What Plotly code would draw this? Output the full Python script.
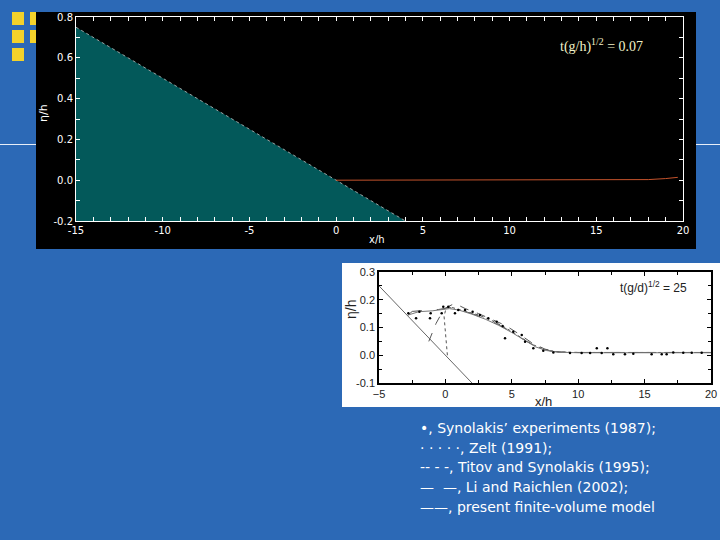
import plotly.graph_objects as go

W, H = 720, 540

# ---------------- data ----------------
# top panel (t(g/h)^1/2 = 0.07)
top_beach_x = [-15, 4, -15]
top_beach_y = [0.75, -0.2, -0.2]
top_water_x = [0, 5, 10, 17.3, 18.0, 19.0, 19.7]
top_water_y = [0.0, 0.0, 0.0, 0.0, 0.003, 0.008, 0.014]
top_yticks = [0.8, 0.6, 0.4, 0.2, 0.0, -0.2]
top_yticktext = ["0.8", "0.6", "0.4", "0.2", "0.0", "-0.2"]
top_xticks = [-15, -10, -5, 0, 5, 10, 15, 20]
top_xticktext = ["-15", "-10", "-5", "0", "5", "10", "15", "20"]

# bottom panel (t(g/d)^1/2 = 25)
beach_x = [-5, 2]
beach_y = [0.25, -0.1]
exp_x = [-2.79, -2.21, -1.96, -1.16, -1.11, -0.28, -0.16, 0.22, 0.72, 0.97, 1.48, 2.05, 2.6,
         3.23, 3.86, 4.31, 4.49, 5.11, 5.75, 6.0, 6.62, 7.37, 8.13,
         9.38, 10.26, 10.9, 11.4, 11.77, 12.2, 12.64, 13.52, 14.15, 15.53, 16.29, 16.66,
         17.16, 17.91, 18.55, 19.3]
exp_y = [0.151, 0.133, 0.157, 0.133, 0.151, 0.151, 0.175, 0.175, 0.151, 0.163, 0.163, 0.157, 0.145,
         0.133, 0.121, 0.105, 0.061, 0.085, 0.073, 0.049, 0.025, 0.016, 0.010,
         0.008, 0.008, 0.008, 0.025, 0.008, 0.025, 0.004, 0.004, 0.005, 0.004, 0.004, 0.004,
         0.010, 0.009, 0.009, 0.009]
zelt_x = [0.15, 0.05, -0.1, 0.05, 0.3, 0.8, 1.5, 2.5, 3.5, 4.5, 5.5, 6.5, 7.5, 8.5, 10, 20]
zelt_y = [0.0, 0.07, 0.14, 0.17, 0.175, 0.168, 0.158, 0.145, 0.125, 0.1, 0.07, 0.04, 0.02, 0.012, 0.01, 0.01]
titov_x = [-1.25, -0.7, -0.3, 0.0, 0.7, 1.5, 2.5, 3.5, 4.5, 5.5, 6.5, 7.5, 8.5, 10, 20]
titov_y = [0.05, 0.115, 0.15, 0.17, 0.187, 0.168, 0.15, 0.13, 0.108, 0.078, 0.045, 0.022, 0.012, 0.01, 0.01]
li_x = [-2.8, -2.5, -1.5, -0.5, 0.3, 1.0, 2.0, 3.0, 4.0, 5.0, 6.0, 7.0, 8.0, 9.0, 20]
li_y = [0.145, 0.158, 0.162, 0.165, 0.172, 0.165, 0.15, 0.132, 0.11, 0.084, 0.053, 0.028, 0.014, 0.01, 0.01]
model_x = [-2.8, -2.0, -1.0, -0.3, 0.3, 1.0, 2.0, 3.0, 4.0, 5.0, 6.0, 6.8, 7.6, 8.5, 10, 15, 20]
model_y = [0.145, 0.157, 0.16, 0.163, 0.168, 0.163, 0.148, 0.13, 0.108, 0.082, 0.052, 0.03, 0.017, 0.011, 0.009, 0.009, 0.009]
bot_yticks = [0.3, 0.2, 0.1, 0.0, -0.1]
bot_yticktext = ["0.3", "0.2", "0.1", "0.0", "-0.1"]
bot_xticks = [-5, 0, 5, 10, 15, 20]

legend_lines = [
    "•, Synolakis’ experiments (1987);",
    "· · · · ·, Zelt (1991);",
    "-- - -, Titov and Synolakis (1995);",
    "—  —, Li and Raichlen (2002);",
    "——, present finite-volume model",
]

# ---------------- helpers ----------------
def px(x):
    return x / W

def py(y):
    return 1 - y / H

fig = go.Figure()

# top panel traces
fig.add_trace(go.Scatter(x=top_beach_x, y=top_beach_y, fill="toself", mode="lines",
                         fillcolor="#03595a", line=dict(color="#03595a", width=0),
                         xaxis="x", yaxis="y", hoverinfo="skip"))
fig.add_trace(go.Scatter(x=top_beach_x[:2], y=top_beach_y[:2], mode="lines",
                         line=dict(color="#9aa4a4", width=1, dash="dot"),
                         xaxis="x", yaxis="y", hoverinfo="skip"))
fig.add_trace(go.Scatter(x=top_water_x, y=top_water_y, mode="lines",
                         line=dict(color="#c4532c", width=1),
                         xaxis="x", yaxis="y", hoverinfo="skip"))

# bottom panel traces
grey = "#555555"
fig.add_trace(go.Scatter(x=beach_x, y=beach_y, mode="lines",
                         line=dict(color="#666666", width=1), xaxis="x2", yaxis="y2"))
fig.add_trace(go.Scatter(x=zelt_x, y=zelt_y, mode="lines",
                         line=dict(color=grey, width=1, dash="dot"), xaxis="x2", yaxis="y2"))
fig.add_trace(go.Scatter(x=titov_x, y=titov_y, mode="lines",
                         line=dict(color=grey, width=1, dash="dash"), xaxis="x2", yaxis="y2"))
fig.add_trace(go.Scatter(x=li_x, y=li_y, mode="lines",
                         line=dict(color=grey, width=1, dash="longdash"), xaxis="x2", yaxis="y2"))
fig.add_trace(go.Scatter(x=model_x, y=model_y, mode="lines",
                         line=dict(color="#777777", width=1), xaxis="x2", yaxis="y2"))
fig.add_trace(go.Scatter(x=exp_x, y=exp_y, mode="markers",
                         marker=dict(color="black", size=2.5), xaxis="x2", yaxis="y2"))

shapes = []
# white divider line behind panels
shapes.append(dict(type="line", xref="paper", yref="paper", x0=0, x1=1, y0=py(144.5), y1=py(144.5),
                   line=dict(color="#e8eef8", width=1), layer="below"))
# yellow squares
for (x0, y0) in [(12, 12), (30, 12), (12, 30), (30, 30), (12, 48)]:
    shapes.append(dict(type="rect", xref="paper", yref="paper",
                       x0=px(x0), x1=px(x0 + 12), y0=py(y0 + 13), y1=py(y0),
                       fillcolor="#f3d22b", line=dict(width=0), layer="below"))
# black panel
shapes.append(dict(type="rect", xref="paper", yref="paper", x0=px(36), x1=px(696), y0=py(249), y1=py(12),
                   fillcolor="black", line=dict(width=0), layer="below"))
# white panel
shapes.append(dict(type="rect", xref="paper", yref="paper", x0=px(342), x1=px(720), y0=py(407), y1=py(263),
                   fillcolor="white", line=dict(width=0), layer="below"))

def ann(text, x, y, font, angle=0, xanchor="center"):
    return dict(text=text, x=px(x), y=py(y), xref="paper", yref="paper", textangle=angle,
                xanchor=xanchor, yanchor="middle", showarrow=False, font=font)

annotations = [
    ann("t(g/h)<sup>1/2</sup> = 0.07", 601, 45,
        dict(family="Liberation Serif", size=14, color="#f2f2c8")),
    ann("η/h", 43, 113, dict(family="DejaVu Sans", size=11, color="white"), angle=-90),
    ann("x/h", 377, 239, dict(family="DejaVu Sans", size=10, color="white")),
    ann("t(g/d)<sup>1/2</sup> = 25", 653, 287, dict(family="Liberation Sans", size=12, color="#222222")),
    ann("η/h", 351, 310, dict(family="Liberation Sans", size=14, color="#222222"), angle=-90),
    ann("x/h", 543, 401, dict(family="Liberation Sans", size=13, color="#222222")),
]
for i, t in enumerate(legend_lines):
    annotations.append(ann(t, 418, 428 + i * 19.7,
                           dict(family="DejaVu Sans", size=14, color="white"), xanchor="left"))

fig.update_layout(
    width=W, height=H, autosize=False,
    margin=dict(l=0, r=0, t=0, b=0, pad=0, autoexpand=False),
    paper_bgcolor="#2c69b6", plot_bgcolor="rgba(0,0,0,0)",
    showlegend=False,
    shapes=shapes, annotations=annotations,
    xaxis=dict(domain=[px(76), px(683)], range=[-15, 20], anchor="y",
               tickvals=top_xticks, ticktext=top_xticktext,
               ticks="inside", ticklen=4, tickcolor="white", showline=True, linecolor="white",
               linewidth=1, mirror="ticks", showgrid=False, zeroline=False,
               minor=dict(dtick=1, ticks="inside", ticklen=4, tickcolor="white", showgrid=False),
               tickfont=dict(family="DejaVu Sans", size=10, color="white")),
    yaxis=dict(domain=[py(221), py(17)], range=[-0.2, 0.8], anchor="x",
               tickvals=top_yticks, ticktext=top_yticktext,
               ticks="inside", ticklen=4, tickcolor="white", showline=True, linecolor="white",
               linewidth=1, mirror="ticks", showgrid=False, zeroline=False,
               minor=dict(dtick=0.1, ticks="inside", ticklen=4, tickcolor="white", showgrid=False),
               tickfont=dict(family="DejaVu Sans", size=10, color="white")),
    xaxis2=dict(domain=[px(379), px(711)], range=[-5, 20], anchor="y2",
                tickvals=bot_xticks,
                ticks="inside", ticklen=4, tickcolor="black", showline=True, linecolor="black",
                linewidth=1.5, mirror="ticks", showgrid=False, zeroline=False,
                minor=dict(dtick=2.5, ticks="inside", ticklen=3, tickcolor="black", showgrid=False),
                tickfont=dict(family="Liberation Sans", size=11, color="#222222")),
    yaxis2=dict(domain=[py(383), py(272)], range=[-0.1, 0.3], anchor="x2",
                tickvals=bot_yticks, ticktext=bot_yticktext,
                ticks="inside", ticklen=4, tickcolor="black", showline=True, linecolor="black",
                linewidth=1.5, mirror="ticks", showgrid=False, zeroline=False,
                minor=dict(dtick=0.05, ticks="inside", ticklen=3, tickcolor="black", showgrid=False),
                tickfont=dict(family="Liberation Sans", size=11, color="#222222")),
)

fig.write_html("out.html", config={"displayModeBar": False},
               post_script="document.body.style.margin='0';document.body.style.overflow='hidden';")
